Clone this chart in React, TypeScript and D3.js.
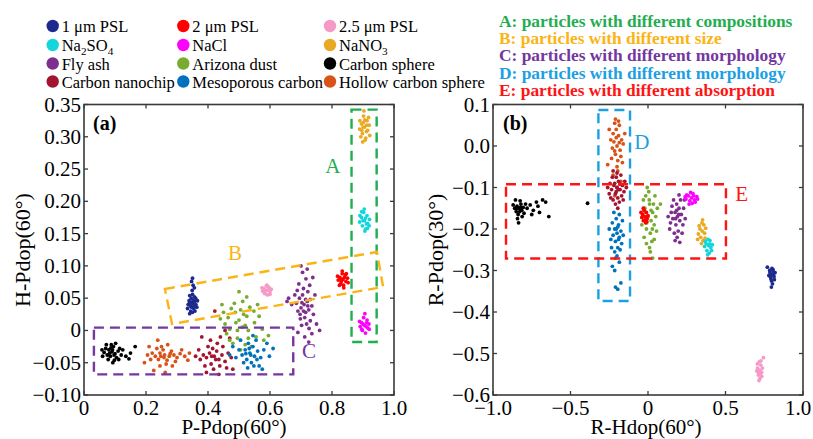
import * as d3 from 'd3'

const seriesNames = [
  '1 μm PSL', '2 μm PSL', '2.5 μm PSL',
  'Na_2SO_4', 'NaCl', 'NaNO_3',
  'Fly ash', 'Arizona dust', 'Carbon sphere',
  'Carbon nanochip', 'Mesoporous carbon', 'Hollow carbon sphere',
]

const seriesColors = [
  '#1b2a8c', '#ff0000', '#f59ac6',
  '#12d6dc', '#ff00ff', '#e9a923',
  '#7e2f8e', '#77ac30', '#000000',
  '#a2142f', '#0072bd', '#d95319',
]

// panel (a): P-Pdop(60°) vs H-Pdop(60°)
const psl1A = [[0.350,0.042],[0.343,0.038],[0.357,0.045],[0.339,0.046],[0.361,0.040],[0.346,0.050],[0.354,0.034],[0.336,0.040],[0.364,0.036],[0.344,0.030],[0.356,0.052],[0.350,0.028],[0.341,0.054],[0.358,0.030],[0.334,0.034],[0.366,0.046],[0.350,0.056],[0.346,0.044],[0.355,0.039],[0.349,0.062],[0.352,0.070],[0.347,0.076],[0.350,0.081],[0.356,0.066],[0.341,0.026],[0.360,0.050],[0.340,0.042],[0.353,0.046],[0.347,0.036]]
const psl2A = [[0.835,0.079],[0.825,0.082],[0.845,0.076],[0.828,0.072],[0.843,0.086],[0.820,0.078],[0.850,0.081],[0.833,0.088],[0.837,0.070],[0.818,0.084],[0.852,0.074],[0.830,0.076],[0.840,0.082],[0.824,0.070],[0.846,0.088],[0.833,0.092],[0.838,0.066],[0.829,0.080]]
const psl25A = [[0.590,0.062],[0.580,0.065],[0.600,0.060],[0.584,0.057],[0.596,0.067],[0.576,0.061],[0.604,0.064],[0.588,0.069],[0.592,0.055],[0.574,0.066],[0.600,0.056],[0.585,0.062],[0.595,0.063],[0.590,0.070],[0.582,0.058]]
const na2so4A = [[0.905,0.170],[0.895,0.175],[0.915,0.166],[0.898,0.162],[0.913,0.178],[0.889,0.168],[0.921,0.172],[0.902,0.183],[0.908,0.157],[0.890,0.178],[0.920,0.162],[0.900,0.170],[0.911,0.165],[0.904,0.188],[0.906,0.154],[0.896,0.184],[0.914,0.158],[0.908,0.174]]
const naclA = [[0.905,0.008],[0.895,0.012],[0.915,0.004],[0.898,0.000],[0.913,0.016],[0.891,0.006],[0.919,0.010],[0.902,0.020],[0.908,-0.004],[0.889,0.014],[0.920,0.002],[0.900,0.010],[0.910,0.006],[0.906,0.026],[0.896,0.002],[0.912,0.012]]
const nano3A = [[0.905,0.315],[0.895,0.320],[0.915,0.310],[0.898,0.305],[0.913,0.325],[0.889,0.312],[0.920,0.318],[0.902,0.332],[0.909,0.298],[0.890,0.325],[0.922,0.302],[0.900,0.315],[0.911,0.308],[0.903,0.340],[0.907,0.295],[0.893,0.300],[0.918,0.330],[0.901,0.322],[0.896,0.310],[0.912,0.318],[0.906,0.326],[0.899,0.292]]
const flyAshA = [[0.710,0.040],[0.700,0.035],[0.720,0.045],[0.695,0.050],[0.715,0.028],[0.725,0.032],[0.705,0.055],[0.690,0.030],[0.730,0.048],[0.712,0.020],[0.698,0.018],[0.722,0.060],[0.685,0.042],[0.735,0.038],[0.708,0.065],[0.718,0.010],[0.702,0.008],[0.740,0.025],[0.680,0.055],[0.728,0.070],[0.693,0.072],[0.745,0.055],[0.716,0.080],[0.705,0.090],[0.726,0.003],[0.735,-0.005],[0.712,-0.010],[0.660,0.050],[0.670,0.040],[0.750,0.010],[0.700,0.100],[0.720,0.095],[0.690,-0.003],[0.738,0.082],[0.715,0.048],[0.703,0.043],[0.722,0.038],[0.697,0.025],[0.708,0.030],[0.730,0.015],[0.688,0.062],[0.655,0.045],[0.760,0.000],[0.725,-0.018]]
const arizonaA = [[0.510,0.005],[0.490,0.012],[0.530,0.000],[0.495,-0.012],[0.525,0.022],[0.470,0.002],[0.550,0.012],[0.505,0.032],[0.520,-0.022],[0.465,0.020],[0.555,-0.010],[0.488,0.028],[0.535,0.036],[0.480,-0.020],[0.565,0.022],[0.455,0.010],[0.512,0.045],[0.540,-0.025],[0.470,-0.015],[0.575,0.002],[0.500,0.016],[0.520,0.008],[0.485,0.042],[0.450,0.028],[0.580,-0.015],[0.525,0.052],[0.505,-0.030],[0.475,0.034],[0.548,0.030],[0.460,-0.005],[0.440,0.018],[0.500,0.060],[0.595,-0.008],[0.530,-0.012],[0.560,0.040],[0.445,0.040],[0.515,0.025],[0.495,0.000]]
const carbonSphereA = [[0.090,-0.033],[0.080,-0.030],[0.100,-0.036],[0.070,-0.028],[0.085,-0.040],[0.095,-0.025],[0.110,-0.032],[0.075,-0.038],[0.105,-0.042],[0.065,-0.034],[0.088,-0.022],[0.098,-0.046],[0.115,-0.028],[0.060,-0.040],[0.078,-0.045],[0.120,-0.038],[0.092,-0.030],[0.083,-0.035],[0.102,-0.020],[0.072,-0.022],[0.112,-0.045],[0.058,-0.030],[0.093,-0.050],[0.125,-0.030],[0.135,-0.040],[0.150,-0.035],[0.145,-0.044],[0.165,-0.025],[0.087,-0.027],[0.097,-0.038]]
const nanochipA = [[0.420,-0.040],[0.405,-0.035],[0.435,-0.045],[0.395,-0.042],[0.415,-0.028],[0.445,-0.038],[0.410,-0.052],[0.428,-0.032],[0.385,-0.038],[0.455,-0.048],[0.400,-0.025],[0.438,-0.055],[0.375,-0.045],[0.465,-0.035],[0.418,-0.060],[0.390,-0.055],[0.448,-0.025],[0.370,-0.030],[0.430,-0.020],[0.475,-0.042],[0.408,-0.015],[0.395,-0.065],[0.460,-0.058],[0.360,-0.040],[0.425,-0.045],[0.412,-0.040],[0.440,-0.010],[0.380,-0.010],[0.470,-0.012],[0.455,0.000],[0.435,-0.068],[0.422,0.030],[0.480,-0.060]]
const mesoA = [[0.535,-0.035],[0.520,-0.030],[0.550,-0.040],[0.525,-0.045],[0.545,-0.025],[0.510,-0.038],[0.560,-0.032],[0.530,-0.020],[0.540,-0.050],[0.500,-0.030],[0.570,-0.042],[0.515,-0.050],[0.555,-0.015],[0.490,-0.042],[0.580,-0.030],[0.528,-0.058],[0.548,-0.055],[0.505,-0.015],[0.565,-0.055],[0.590,-0.020],[0.538,-0.038],[0.522,-0.036],[0.598,-0.040],[0.480,-0.025],[0.545,-0.008],[0.575,-0.060],[0.610,-0.028],[0.470,-0.038],[0.533,-0.028],[0.558,-0.045]]
const hollowA = [[0.260,-0.038],[0.245,-0.035],[0.275,-0.040],[0.230,-0.040],[0.255,-0.030],[0.290,-0.038],[0.240,-0.045],[0.268,-0.046],[0.220,-0.035],[0.300,-0.042],[0.250,-0.025],[0.282,-0.032],[0.235,-0.028],[0.310,-0.036],[0.265,-0.052],[0.215,-0.045],[0.295,-0.048],[0.245,-0.055],[0.325,-0.040],[0.205,-0.038],[0.270,-0.022],[0.238,-0.015],[0.285,-0.055],[0.335,-0.046],[0.195,-0.050],[0.225,-0.062],[0.258,-0.042],[0.278,-0.036],[0.248,-0.040],[0.315,-0.030],[0.210,-0.025],[0.262,-0.065],[0.340,-0.035]]

// panel (b): R-Hdop(60°) vs R-Pdop(30°)
const psl1B = [[0.800,-0.310],[0.787,-0.305],[0.813,-0.315],[0.793,-0.320],[0.807,-0.298],[0.780,-0.312],[0.820,-0.305],[0.800,-0.295],[0.797,-0.325],[0.785,-0.300],[0.815,-0.322],[0.803,-0.332],[0.796,-0.340],[0.770,-0.292],[0.810,-0.310],[0.790,-0.315],[0.808,-0.302]]
const psl2B = [[-0.020,-0.170],[-0.035,-0.165],[-0.005,-0.175],[-0.030,-0.180],[-0.010,-0.160],[-0.040,-0.172],[-0.015,-0.185],[-0.025,-0.155],[0.000,-0.168],[-0.045,-0.160],[-0.020,-0.178],[-0.030,-0.150],[-0.008,-0.182]]
const psl25B = [[0.720,-0.540],[0.707,-0.535],[0.733,-0.545],[0.712,-0.552],[0.728,-0.528],[0.702,-0.542],[0.738,-0.535],[0.718,-0.520],[0.722,-0.560],[0.706,-0.525],[0.734,-0.555],[0.716,-0.565],[0.728,-0.518],[0.745,-0.510],[0.712,-0.546],[0.725,-0.548]]
const na2so4B = [[0.390,-0.240],[0.375,-0.235],[0.405,-0.245],[0.380,-0.252],[0.400,-0.228],[0.365,-0.242],[0.415,-0.238],[0.388,-0.225],[0.395,-0.258],[0.370,-0.230],[0.410,-0.252],[0.385,-0.262],[0.398,-0.236]]
const naclB = [[0.280,-0.125],[0.260,-0.120],[0.300,-0.130],[0.270,-0.132],[0.290,-0.115],[0.245,-0.128],[0.315,-0.122],[0.275,-0.112],[0.285,-0.138],[0.250,-0.118],[0.305,-0.135],[0.265,-0.140],[0.295,-0.120],[0.320,-0.128],[0.240,-0.122]]
const nano3B = [[0.350,-0.205],[0.335,-0.200],[0.365,-0.210],[0.340,-0.220],[0.360,-0.190],[0.325,-0.212],[0.372,-0.198],[0.348,-0.185],[0.355,-0.228],[0.330,-0.192],[0.368,-0.222],[0.345,-0.235],[0.352,-0.178],[0.320,-0.225]]
const flyAshB = [[0.190,-0.170],[0.175,-0.160],[0.205,-0.180],[0.180,-0.190],[0.200,-0.150],[0.160,-0.175],[0.215,-0.165],[0.185,-0.140],[0.195,-0.205],[0.150,-0.160],[0.225,-0.190],[0.170,-0.210],[0.210,-0.130],[0.145,-0.185],[0.230,-0.150],[0.188,-0.220],[0.165,-0.130],[0.220,-0.210],[0.140,-0.200],[0.200,-0.118],[0.178,-0.175],[0.198,-0.165],[0.240,-0.175],[0.130,-0.170],[0.175,-0.228],[0.205,-0.232],[0.185,-0.155],[0.155,-0.145],[0.235,-0.130]]
const arizonaB = [[0.000,-0.170],[-0.020,-0.150],[0.020,-0.180],[0.010,-0.140],[-0.010,-0.200],[0.030,-0.160],[-0.030,-0.130],[0.015,-0.210],[-0.015,-0.120],[0.040,-0.190],[0.005,-0.110],[-0.025,-0.220],[0.035,-0.140],[0.025,-0.230],[-0.005,-0.100],[0.050,-0.170],[0.010,-0.245],[-0.040,-0.190],[0.045,-0.120],[0.020,-0.155],[-0.008,-0.185],[0.028,-0.200],[0.060,-0.150],[0.015,-0.255],[0.040,-0.225],[-0.018,-0.160],[0.008,-0.130],[0.055,-0.205],[0.080,-0.140],[0.030,-0.270],[-0.010,-0.235]]
const carbonSphereB = [[-0.830,-0.150],[-0.845,-0.145],[-0.815,-0.155],[-0.850,-0.158],[-0.820,-0.140],[-0.860,-0.150],[-0.805,-0.148],[-0.838,-0.165],[-0.825,-0.132],[-0.870,-0.142],[-0.800,-0.162],[-0.842,-0.175],[-0.855,-0.130],[-0.812,-0.170],[-0.790,-0.140],[-0.835,-0.185],[-0.848,-0.150],[-0.822,-0.148],[-0.780,-0.150],[-0.760,-0.142],[-0.740,-0.155],[-0.720,-0.135],[-0.700,-0.160],[-0.680,-0.130],[-0.660,-0.135],[-0.750,-0.165],[-0.710,-0.145],[-0.640,-0.170],[-0.390,-0.138],[-0.828,-0.158]]
const nanochipB = [[-0.200,-0.100],[-0.220,-0.095],[-0.180,-0.105],[-0.210,-0.115],[-0.190,-0.085],[-0.235,-0.105],[-0.165,-0.095],[-0.205,-0.075],[-0.195,-0.125],[-0.245,-0.090],[-0.155,-0.110],[-0.225,-0.130],[-0.175,-0.070],[-0.250,-0.115],[-0.150,-0.085],[-0.210,-0.140],[-0.185,-0.135],[-0.230,-0.075],[-0.200,-0.065],[-0.170,-0.120],[-0.140,-0.100],[-0.260,-0.100],[-0.215,-0.090],[-0.190,-0.105],[-0.205,-0.110],[-0.240,-0.125],[-0.160,-0.130],[-0.195,-0.150],[-0.225,-0.060],[-0.180,-0.092]]
const mesoB = [[-0.200,-0.210],[-0.215,-0.200],[-0.185,-0.220],[-0.210,-0.230],[-0.190,-0.190],[-0.225,-0.215],[-0.175,-0.205],[-0.205,-0.175],[-0.195,-0.245],[-0.230,-0.185],[-0.170,-0.235],[-0.215,-0.255],[-0.185,-0.165],[-0.240,-0.225],[-0.165,-0.180],[-0.200,-0.265],[-0.220,-0.160],[-0.180,-0.250],[-0.235,-0.245],[-0.160,-0.215],[-0.205,-0.200],[-0.190,-0.225],[-0.210,-0.270],[-0.185,-0.280],[-0.230,-0.290],[-0.215,-0.300],[-0.175,-0.330],[-0.195,-0.345],[-0.210,-0.340],[-0.250,-0.200],[-0.195,-0.195]]
const hollowB = [[-0.200,0.000],[-0.220,0.010],[-0.180,-0.010],[-0.210,-0.020],[-0.190,0.025],[-0.230,-0.005],[-0.170,0.015],[-0.205,0.040],[-0.195,-0.035],[-0.225,0.030],[-0.175,-0.025],[-0.215,0.055],[-0.185,0.050],[-0.240,0.015],[-0.160,0.005],[-0.200,-0.050],[-0.235,-0.030],[-0.165,-0.040],[-0.210,0.065],[-0.190,0.060],[-0.250,0.040],[-0.150,0.030],[-0.205,0.020],[-0.185,0.008],[-0.215,-0.012],[-0.195,-0.060],[-0.225,-0.070],[-0.200,-0.100],[-0.215,-0.120],[-0.175,-0.085],[-0.260,-0.045]]

const pointsA = [psl1A, psl2A, psl25A, na2so4A, naclA, nano3A, flyAshA, arizonaA, carbonSphereA, nanochipA, mesoA, hollowA]
const pointsB = [psl1B, psl2B, psl25B, na2so4B, naclB, nano3B, flyAshB, arizonaB, carbonSphereB, nanochipB, mesoB, hollowB]
const drawOrderA = [8, 11, 9, 7, 10, 6, 0, 1, 2, 3, 4, 5]
const drawOrderB = [8, 11, 9, 10, 7, 1, 6, 4, 5, 3, 0, 2]

// ticks
const aXTicks = [0, 0.2, 0.4, 0.6, 0.8, 1.0]
const aXTickLabels = ['0', '0.2', '0.4', '0.6', '0.8', '1.0']
const aYTicks = [-0.10, -0.05, 0, 0.05, 0.10, 0.15, 0.20, 0.25, 0.30, 0.35]
const aYTickLabels = ['−0.10', '−0.05', '0', '0.05', '0.10', '0.15', '0.20', '0.25', '0.30', '0.35']
const bXTicks = [-1.0, -0.5, 0, 0.5, 1.0]
const bXTickLabels = ['−1.0', '−0.5', '0', '0.5', '1.0']
const bYTicks = [-0.6, -0.5, -0.4, -0.3, -0.2, -0.1, 0, 0.1]
const bYTickLabels = ['−0.6', '−0.5', '−0.4', '−0.3', '−0.2', '−0.1', '0.0', '0.1']

// group annotations
const groupTexts = [
  'A: particles with different compositions',
  'B: particles with different size',
  'C: particles with different morphology',
  'D: particles with different morphology',
  'E: particles with different absorption',
]
const groupColors = ['#1fae50', '#fbb416', '#7436a0', '#1c9fe3', '#ff1414']

const boxA = [[0.863, -0.018], [0.944, 0.342]]
const boxC = [[0.032, -0.068], [0.675, 0.0043]]
const polyB = [[0.261, 0.0642], [0.945, 0.1215], [0.965, 0.0673], [0.284, 0.0101]]
const boxD = [[-0.32, -0.3735], [-0.116, 0.0867]]
const boxE = [[-0.916, -0.271], [0.503, -0.092]]

const FONT = '"Liberation Serif", "Times New Roman", serif'
const AXIS = '#3a3a3a'

function Label({ text, x, y, size }: { text: string; x: number; y: number; size: number }) {
  const parts = text.split(/_(\d)/)
  return (
    <text x={x} y={y} fontSize={size} fontFamily={FONT} fill="#000">
      {parts.map((p, i) =>
        i % 2 === 1 ? (
          <tspan key={i} fontSize={size * 0.68} dy={4}>{p}</tspan>
        ) : (
          <tspan key={i} dy={i > 0 ? -4 : 0}>{p}</tspan>
        )
      )}
    </text>
  )
}

function Frame({ x, y, xTicks, xLabels, yTicks, yLabels }: any) {
  const [l, r] = x.range()
  const [b, t] = y.range()
  const tl = 4
  return (
    <g>
      {xTicks.map((v: number, i: number) => (
        <g key={'x' + i}>
          <line x1={x(v)} x2={x(v)} y1={b} y2={b - tl} stroke={AXIS} strokeWidth={1.3} />
          <line x1={x(v)} x2={x(v)} y1={t} y2={t + tl} stroke={AXIS} strokeWidth={1.3} />
          <text x={Math.min(x(v), 798)} y={b + 20} textAnchor="middle" fontSize={21} fontFamily={FONT}>{xLabels[i]}</text>
        </g>
      ))}
      {yTicks.map((v: number, i: number) => (
        <g key={'y' + i}>
          <line x1={l} x2={l + tl} y1={y(v)} y2={y(v)} stroke={AXIS} strokeWidth={1.3} />
          <line x1={r} x2={r - tl} y1={y(v)} y2={y(v)} stroke={AXIS} strokeWidth={1.3} />
          <text x={l - 3} y={y(v) + 7} textAnchor="end" fontSize={21} fontFamily={FONT}>{yLabels[i]}</text>
        </g>
      ))}
      <rect x={l} y={t} width={r - l} height={b - t} fill="none" stroke={AXIS} strokeWidth={1.6} />
    </g>
  )
}

function Dots({ data, order, x, y }: any) {
  return (
    <g>
      {order.map((si: number) =>
        data[si].map((d: number[], j: number) => (
          <circle key={si + '-' + j} cx={x(d[0])} cy={y(d[1])} r={1.9} fill={seriesColors[si]} />
        ))
      )}
    </g>
  )
}

function DashRect({ box, x, y, color }: any) {
  const x0 = x(box[0][0]), x1 = x(box[1][0])
  const y0 = y(box[1][1]), y1 = y(box[0][1])
  return <rect x={x0} y={y0} width={x1 - x0} height={y1 - y0} fill="none" stroke={color} strokeWidth={2.4} strokeDasharray="10,6" />
}

export default function App() {
  const xA = d3.scaleLinear().domain([0, 1]).range([84, 394])
  const yA = d3.scaleLinear().domain([-0.1, 0.35]).range([395, 104.5])
  const xB = d3.scaleLinear().domain([-1, 1]).range([493, 803])
  const yB = d3.scaleLinear().domain([-0.6, 0.1]).range([395, 104.5])

  const polyLine = d3.line().x((d: any) => xA(d[0])).y((d: any) => yA(d[1]))

  const legendCols = [52.7, 183.3, 330]
  const legendRows = [26, 45, 63.5, 81.5]

  return (
    <svg width={813} height={439} style={{ position: 'absolute', left: 0, top: 0, background: '#fff' }}>
      {/* legend */}
      {seriesNames.map((name, i) => {
        const cx = legendCols[i % 3]
        const cy = legendRows[Math.floor(i / 3)]
        return (
          <g key={name}>
            <circle cx={cx} cy={cy} r={6.2} fill={seriesColors[i]} />
            <Label text={name} x={cx + 9} y={cy + 6} size={16.5} />
          </g>
        )
      })}
      {groupTexts.map((t, i) => (
        <text key={t} x={499} y={27 + i * 17.2} fontSize={17.4} fontWeight="bold" fontFamily={FONT} fill={groupColors[i]}>{t}</text>
      ))}

      {/* panel a */}
      <Frame x={xA} y={yA} xTicks={aXTicks} xLabels={aXTickLabels} yTicks={aYTicks} yLabels={aYTickLabels} />
      <Dots data={pointsA} order={drawOrderA} x={xA} y={yA} />
      <DashRect box={boxA} x={xA} y={yA} color={groupColors[0]} />
      <DashRect box={boxC} x={xA} y={yA} color={groupColors[2]} />
      <path d={polyLine(polyB as any) + 'Z'} fill="none" stroke={groupColors[1]} strokeWidth={2.4} strokeDasharray="10,6" />
      <text x={xA(0.803)} y={yA(0.254) + 7} textAnchor="middle" fontSize={21} fontFamily={FONT} fill={groupColors[0]}>A</text>
      <text x={xA(0.487)} y={yA(0.12) + 7} textAnchor="middle" fontSize={21} fontFamily={FONT} fill={groupColors[1]}>B</text>
      <text x={xA(0.726)} y={yA(-0.032) + 7} textAnchor="middle" fontSize={21} fontFamily={FONT} fill={groupColors[2]}>C</text>
      <text x={93} y={130} fontSize={20} fontWeight="bold" fontFamily={FONT}>(a)</text>
      <text x={234} y={434} textAnchor="middle" fontSize={21} fontFamily={FONT}>P-Pdop(60°)</text>
      <text transform="translate(30,250) rotate(-90)" textAnchor="middle" fontSize={22} fontFamily={FONT}>H-Pdop(60°)</text>

      {/* panel b */}
      <Frame x={xB} y={yB} xTicks={bXTicks} xLabels={bXTickLabels} yTicks={bYTicks} yLabels={bYTickLabels} />
      <Dots data={pointsB} order={drawOrderB} x={xB} y={yB} />
      <DashRect box={boxD} x={xB} y={yB} color={groupColors[3]} />
      <DashRect box={boxE} x={xB} y={yB} color={groupColors[4]} />
      <text x={xB(-0.04)} y={yB(0.01) + 7} textAnchor="middle" fontSize={21} fontFamily={FONT} fill={groupColors[3]}>D</text>
      <text x={xB(0.605)} y={yB(-0.116) + 7} textAnchor="middle" fontSize={21} fontFamily={FONT} fill={groupColors[4]}>E</text>
      <text x={503} y={130} fontSize={20} fontWeight="bold" fontFamily={FONT}>(b)</text>
      <text x={646} y={434} textAnchor="middle" fontSize={21} fontFamily={FONT}>R-Hdop(60°)</text>
      <text transform="translate(443,250) rotate(-90)" textAnchor="middle" fontSize={22} fontFamily={FONT}>R-Pdop(30°)</text>
    </svg>
  )
}
